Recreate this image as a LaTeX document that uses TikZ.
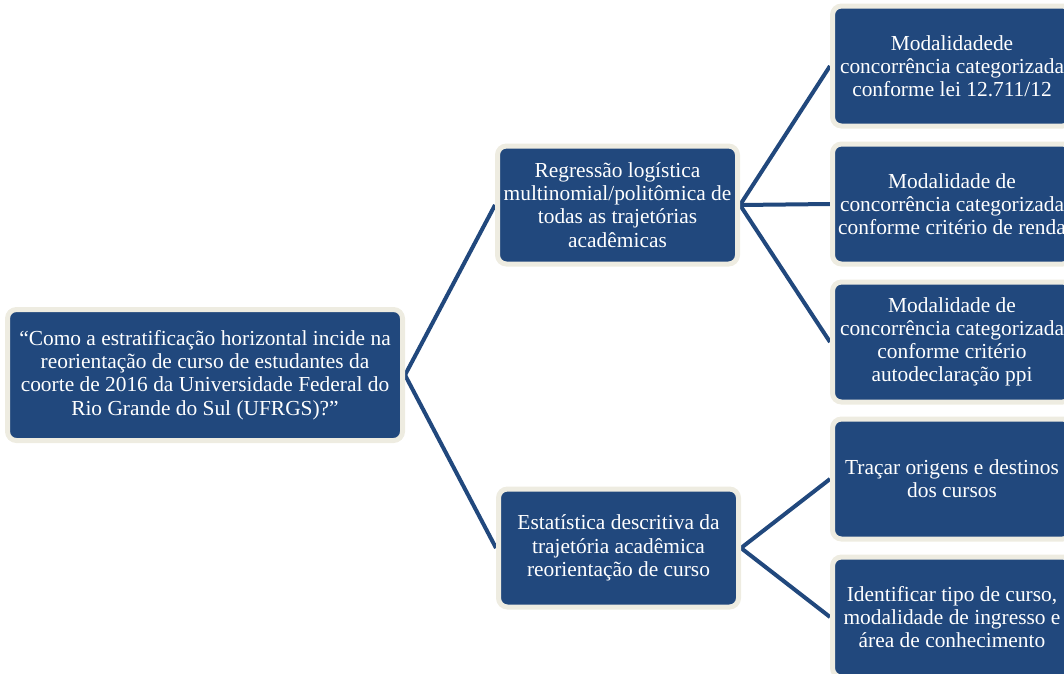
\documentclass[tikz,border=0pt]{standalone}
\usepackage{fontspec}
\setmainfont{Liberation Serif}
\usetikzlibrary{backgrounds}
\definecolor{boxblue}{RGB}{33,72,125}
\definecolor{beige}{RGB}{238,236,225}
\begin{document}
\begin{tikzpicture}[x=1pt,y=-1pt,
  box/.style={draw=beige, line width=5pt, fill=boxblue, rounded corners=9pt,
    text=white, align=center, inner sep=0pt,
    font=\fontsize{21.4}{23.2}\selectfont},
  conn/.style={draw=boxblue, line width=4pt}]
\useasboundingbox (0,0) rectangle (1064,673);
\clip (0,0) rectangle (1064,673);
\node[box, minimum width=395pt, minimum height=131pt] (root) at (205,375)
  {“Como a estratificação horizontal incide na\\reorientação de curso de estudantes da\\coorte de 2016 da Universidade Federal do\\Rio Grande do Sul (UFRGS)?”};
\node[box, minimum width=240pt, minimum height=118pt] (reg) at (617.5,205)
  {Regressão logística\\multinomial/politômica de\\todas as trajetórias\\acadêmicas};
\node[box, minimum width=240pt, minimum height=118pt] (est) at (618.5,548)
  {Estatística descritiva da\\trajetória acadêmica\\reorientação de curso};
\node[box, minimum width=239pt, minimum height=120pt] (m1) at (952,66)
  {Modalidadede\\concorrência categorizada\\conforme lei 12.711/12};
\node[box, minimum width=239pt, minimum height=120pt] (m2) at (952,204)
  {Modalidade de\\concorrência categorizada\\conforme critério de renda};
\node[box, minimum width=239pt, minimum height=120pt] (m3) at (952,342)
  {Modalidade de\\concorrência categorizada\\conforme critério\\autodeclaração ppi};
\node[box, minimum width=239pt, minimum height=120pt] (t1) at (952,479)
  {Traçar origens e destinos\\dos cursos};
\node[box, minimum width=239pt, minimum height=120pt] (t2) at (952,617)
  {Identificar tipo de curso,\\modalidade de ingresso e\\área de conhecimento};
\begin{scope}[on background layer]
\draw[conn] (root.east) -- (reg.west);
\draw[conn] (root.east) -- (est.west);
\draw[conn] (reg.east) -- (m1.west);
\draw[conn] (reg.east) -- (m2.west);
\draw[conn] (reg.east) -- (m3.west);
\draw[conn] (est.east) -- (t1.west);
\draw[conn] (est.east) -- (t2.west);
\end{scope}
\end{tikzpicture}
\end{document}
